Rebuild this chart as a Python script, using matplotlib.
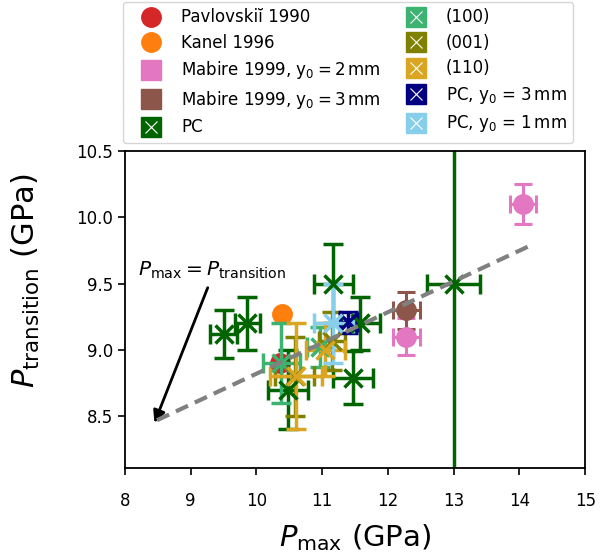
import matplotlib
matplotlib.use("Agg")
import matplotlib.pyplot as plt
from matplotlib.lines import Line2D

# ---- data ----
pav_x, pav_y = [10.36], [8.90]
kan_x, kan_y = [10.39], [9.275]

mab2_x = [14.05, 12.28]
mab2_y = [10.10, 9.10]
mab2_xerr = [0.2, 0.2]
mab2_yerr = [0.15, 0.14]

mab3_x = [12.28]
mab3_y = [9.30]
mab3_xerr = [0.2]
mab3_yerr = [0.14]

pc_x = [13.0, 11.17, 9.50, 9.86, 11.58, 11.47, 10.48]
pc_y = [9.50, 9.50, 9.12, 9.20, 9.20, 8.79, 8.70]
pc_xerr = [0.4, 0.3, 0.2, 0.19, 0.3, 0.3, 0.3]
pc_yerr = [1.6, 0.3, 0.18, 0.2, 0.2, 0.2, 0.3]

s100_x = [10.38, 10.97]
s100_y = [8.90, 9.02]
s100_xerr = [0.28, 0.2]
s100_yerr = [0.3, 0.15]

s001_x = [10.58, 11.15]
s001_y = [8.80, 9.07]
s001_xerr = [0.3, 0.2]
s001_yerr = [0.3, 0.22]

s110_x = [10.60, 11.05]
s110_y = [8.80, 9.00]
s110_xerr = [0.4, 0.3]
s110_yerr = [0.4, 0.2]

pc3_x = [11.40]
pc3_y = [9.21]
pc3_xerr = [0.13]
pc3_yerr = [0.08]

pc1_x = [11.17]
pc1_y = [9.20]
pc1_xerr = [0.3]
pc1_yerr = [0.3]

line_x = [8.49, 14.13]
line_y = [8.47, 9.78]

labels = ['Pavlovskiĭ 1990', 'Kanel 1996',
          r'Mabire 1999, $\mathrm{y_0 = 2\,mm}$',
          r'Mabire 1999, $\mathrm{y_0 = 3\,mm}$',
          'PC', '(100)', '(001)', '(110)',
          r'PC, $\mathrm{y_0}$ = 3$\,$mm', r'PC, $\mathrm{y_0}$ = 1$\,$mm']
colors = ['tab:red', 'tab:orange', 'tab:pink', 'tab:brown', 'darkgreen',
          'mediumseagreen', 'olive', 'goldenrod', 'navy', 'skyblue']

fig = plt.figure(figsize=(6.09, 5.58), dpi=100)
ax = fig.add_axes([0.205, 0.161, 0.756, 0.568])

ax.plot(pav_x, pav_y, 'o', color=colors[0], ms=14, ls='none')
ax.plot(kan_x, kan_y, 'o', color=colors[1], ms=14, ls='none')

ckw = dict(ls='none', capsize=6.5, elinewidth=2.2, capthick=2.2)
ax.errorbar(mab2_x, mab2_y, xerr=mab2_xerr, yerr=mab2_yerr, fmt='o', ms=14,
            color=colors[2], **ckw)
ax.errorbar(mab3_x, mab3_y, xerr=mab3_xerr, yerr=mab3_yerr, fmt='o', ms=14,
            color=colors[3], **ckw)

xkw = dict(fmt='x', ms=13, mew=2.5, ls='none', capsize=7, elinewidth=2.5, capthick=2.5)
ax.errorbar(pc_x, pc_y, xerr=pc_xerr, yerr=pc_yerr, color=colors[4], **xkw)
ax.errorbar(s100_x, s100_y, xerr=s100_xerr, yerr=s100_yerr, color=colors[5], **xkw)
ax.errorbar(s001_x, s001_y, xerr=s001_xerr, yerr=s001_yerr, color=colors[6], **xkw)
ax.errorbar(s110_x, s110_y, xerr=s110_xerr, yerr=s110_yerr, color=colors[7], **xkw)
ax.errorbar(pc3_x, pc3_y, xerr=pc3_xerr, yerr=pc3_yerr, color=colors[8], **xkw)
ax.errorbar(pc1_x, pc1_y, xerr=pc1_xerr, yerr=pc1_yerr, color=colors[9], **xkw)

ax.plot(line_x, line_y, '--', color='gray', lw=3, dashes=(3.2, 1.8), zorder=5)

ax.text(9.32, 9.6, r'$P_{\max} = P_{\rm transition}$', ha='center', va='center',
        fontsize=14.5)
ax.annotate('', xy=(8.45, 8.45), xytext=(9.26, 9.47),
            arrowprops=dict(arrowstyle='-|>', color='k', lw=2, mutation_scale=18,
                            shrinkA=0, shrinkB=0))

ax.set_xlim(8, 15)
ax.set_ylim(8.108, 10.5)
ax.set_xticks(range(8, 16))
ax.set_yticks([8.5, 9.0, 9.5, 10.0, 10.5])
ax.tick_params(labelsize=12, width=1.2, length=5)
ax.tick_params(axis='x', pad=12)
for s in ax.spines.values():
    s.set_linewidth(1.3)
ax.set_xlabel(r'$P_{\max}$ (GPa)', fontsize=21, labelpad=9)
ax.set_ylabel(r'$P_{\rm transition}$ (GPa)', fontsize=22)
ax.yaxis.set_label_coords(-0.18, 0.59)

handles = []
for i, c in enumerate(colors):
    if i < 2:
        handles.append(Line2D([], [], marker='o', color=c, ls='none', ms=14))
    elif i < 4:
        handles.append(Line2D([], [], marker='s', color=c, ls='none', ms=14))
    else:
        sq = Line2D([], [], marker='s', color=c, ls='none', ms=14)
        wx = Line2D([], [], marker='x', color='white', ls='none', ms=9, mew=0.8)
        handles.append((sq, wx))

fig.legend(handles, labels, ncol=2, loc='upper left', bbox_to_anchor=(123 / 609, 0.997),
           fontsize=12, labelspacing=0.45, handlelength=2.6, handletextpad=0.5,
           columnspacing=0.8, borderpad=0.4, borderaxespad=0, edgecolor='0.8',
           fancybox=True)

fig.savefig('out.png', dpi=100)
